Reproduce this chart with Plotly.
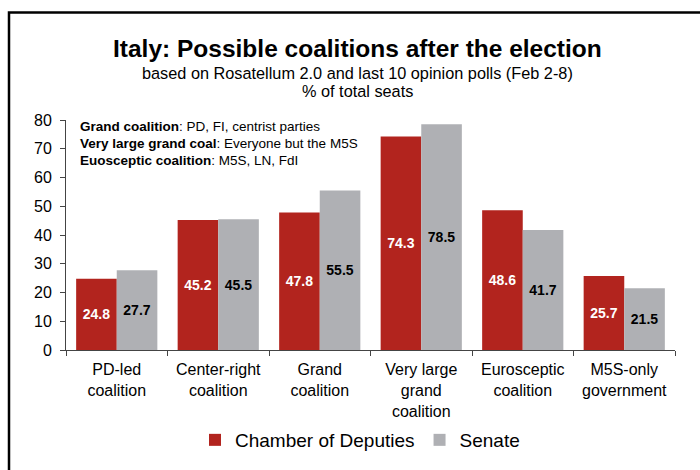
import plotly.graph_objects as go

categories = ["PD-led<br>coalition", "Center-right<br>coalition", "Grand<br>coalition",
              "Very large<br>grand<br>coalition", "Eurosceptic<br>coalition", "M5S-only<br>government"]
chamber = [24.8, 45.2, 47.8, 74.3, 48.6, 25.7]
senate = [27.7, 45.5, 55.5, 78.5, 41.7, 21.5]
y_ticks = [0, 10, 20, 30, 40, 50, 60, 70, 80]
majority = 50

RED = "#B2241E"
GRAY = "#AFB0B4"
FONT = "Liberation Sans, Arial, sans-serif"

W, H = 700, 470
L, R, T, B = 66, 25, 120, 119
pw, ph = W - L - R, H - T - B

def px(x):
    return (x - L) / pw

def py(y):
    return (H - B - y) / ph

fig = go.Figure()
fig.add_trace(go.Bar(
    x=categories, y=chamber, name="Chamber of Deputies",
    marker=dict(color=RED, line=dict(width=0)),
    text=[f"{v:.1f}" for v in chamber], textposition="inside",
    insidetextanchor="middle",
    textfont=dict(color="white", size=14, family=FONT, weight="bold"),
))
fig.add_trace(go.Bar(
    x=categories, y=senate, name="Senate",
    marker=dict(color=GRAY, line=dict(width=0)),
    text=[f"{v:.1f}" for v in senate], textposition="inside",
    insidetextanchor="middle",
    textfont=dict(color="black", size=14, family=FONT, weight="bold"),
))

fig.add_hline(y=majority, line=dict(color="black", width=1))

annotations = [
    dict(text="<b>Italy: Possible coalitions after the election</b>", x=px(357), y=py(48),
         font=dict(size=24.5, color="black", family=FONT)),
    dict(text="based on Rosatellum 2.0 and last 10 opinion polls (Feb 2-8)", x=px(357), y=py(73),
         font=dict(size=16.3, color="black", family=FONT)),
    dict(text="% of total seats", x=px(357), y=py(91),
         font=dict(size=16.3, color="black", family=FONT)),
]
notes = [
    ("<b>Grand coalition</b>: PD, FI, centrist parties", 127),
    ("<b>Very large grand coal</b>: Everyone but the M5S", 144),
    ("<b>Euosceptic coalition</b>: M5S, LN, FdI", 161),
]
for t, yy in notes:
    annotations.append(dict(text=t, x=px(78), y=py(yy), xanchor="left",
                            font=dict(size=13.5, color="black", family=FONT)))
for a in annotations:
    a.setdefault("xanchor", "center")
    a.update(xref="paper", yref="paper", yanchor="middle", showarrow=False)

fx, fy = px(9), py(12)
shapes = [
    dict(type="path", xref="paper", yref="paper",
         path=f"M {fx},{py(480)} L {fx},{fy} L {px(720)},{fy}",
         line=dict(color="black", width=2.5)),
]

fig.update_layout(
    width=W, height=H,
    margin=dict(l=L, r=R, t=T, b=B, pad=0),
    paper_bgcolor="white", plot_bgcolor="white",
    font=dict(family=FONT, color="black", size=14),
    barmode="group", bargap=0.2, bargroupgap=0,
    showlegend=True,
    legend=dict(orientation="h", x=px(360), xanchor="center", y=py(440), yanchor="middle",
                font=dict(size=19, family=FONT), itemwidth=30, traceorder="normal"),
    annotations=annotations,
    shapes=shapes,
    xaxis=dict(showline=True, linecolor="#444444", linewidth=1, ticks="outside",
               tickson="boundaries", ticklen=5, tickcolor="#444444",
               ticklabelstandoff=5,
               tickfont=dict(size=16, family=FONT), showgrid=False, fixedrange=True),
    yaxis=dict(range=[0, 80], tickvals=y_ticks, showline=True, linecolor="#444444",
               linewidth=1, ticks="outside", ticklen=5, tickcolor="#444444",
               ticklabelstandoff=5,
               tickfont=dict(size=16, family=FONT), showgrid=False, zeroline=False,
               fixedrange=True),
)

fig.write_html("out.html")
